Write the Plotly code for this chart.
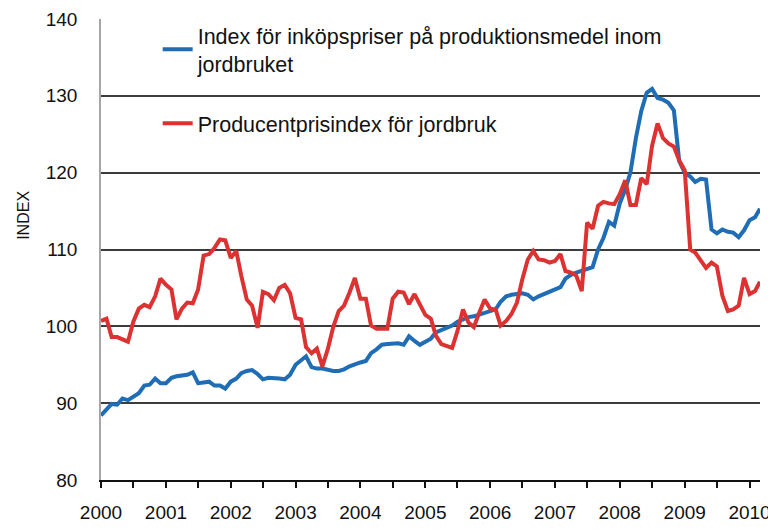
import pandas as pd
import plotly.graph_objects as go

# Monthly data, Jan 2000 - Mar 2010
months = pd.date_range("2000-01-01", periods=123, freq="MS")

input_price_index = [
    88.4, 89.2, 89.9, 89.8, 90.6, 90.4, 90.9, 91.3, 92.3, 92.4, 93.2, 92.6,   # 2000
    92.6, 93.3, 93.5, 93.6, 93.7, 94.0, 92.6, 92.7, 92.8, 92.3, 92.3, 91.9,   # 2001
    92.8, 93.2, 93.9, 94.2, 94.3, 93.8, 93.1, 93.3, 93.3, 93.2, 93.1, 93.7,   # 2002
    95.0, 95.5, 96.1, 94.7, 94.5, 94.5, 94.3, 94.2, 94.2, 94.4, 94.8, 95.1,   # 2003
    95.3, 95.5, 96.5, 97.0, 97.6, 97.7, 97.7, 97.8, 97.6, 98.7, 98.1, 97.6,   # 2004
    98.0, 98.4, 99.2, 99.5, 99.9, 100.1, 100.6, 100.9, 101.2, 101.3, 101.5, 101.8,  # 2005
    102.0, 102.2, 103.2, 103.9, 104.1, 104.2, 104.3, 104.1, 103.5, 103.9, 104.2, 104.6,  # 2006
    104.9, 105.1, 106.2, 106.7, 107.0, 107.2, 107.4, 107.7, 110.0, 111.5, 113.6, 113.1,  # 2007
    116.0, 117.8, 120.0, 124.5, 128.0, 130.4, 130.9, 129.7, 129.5, 129.1, 128.1, 121.5,  # 2008
    120.0, 119.5, 118.8, 119.2, 119.1, 112.6, 112.1, 112.6, 112.3, 112.2, 111.6, 112.5,  # 2009
    113.8, 114.2, 115.3,                                                          # 2010
]

producer_price_index = [
    100.7, 101.0, 98.6, 98.6, 98.3, 98.0, 100.6, 102.3, 102.8, 102.5, 103.9, 106.2,  # 2000
    105.4, 104.8, 100.9, 102.3, 103.1, 103.0, 104.8, 109.2, 109.4, 110.2, 111.3, 111.2,  # 2001
    108.9, 109.8, 106.6, 103.5, 102.7, 99.8, 104.5, 104.2, 103.4, 105.0, 105.4, 104.3,  # 2002
    101.1, 100.9, 97.3, 96.5, 97.1, 94.8, 97.0, 99.9, 102.0, 102.7, 104.4, 106.3,  # 2003
    103.6, 103.6, 100.1, 99.7, 99.7, 99.7, 103.6, 104.5, 104.4, 102.9, 104.2, 102.9,  # 2004
    101.5, 101.0, 98.8, 97.7, 97.5, 97.2, 99.4, 102.2, 100.5, 99.9, 101.8, 103.5,  # 2005
    102.3, 102.2, 100.1, 100.7, 101.6, 103.1, 106.1, 108.7, 109.8, 108.7, 108.6, 108.3,  # 2006
    108.5, 109.4, 107.2, 107.0, 106.6, 104.6, 113.5, 112.7, 115.7, 116.2, 116.0, 115.9,  # 2007
    117.2, 119.0, 115.8, 115.8, 119.3, 118.5, 123.5, 126.4, 124.5, 123.8, 123.4, 121.6,  # 2008
    120.3, 110.0, 109.6, 108.5, 107.6, 108.3, 107.8, 104.0, 102.0, 102.2, 102.7, 106.3,  # 2009
    104.2, 104.6, 105.8,                                                              # 2010
]

series_names = [
    "Index för inköpspriser på produktionsmedel inom<br>jordbruket",
    "Producentprisindex för jordbruk",
]
y_ticks = [80, 90, 100, 110, 120, 130, 140]

FONT = "Liberation Sans, Arial, sans-serif"

fig = go.Figure()
fig.add_trace(go.Scatter(
    x=months, y=input_price_index, mode="lines", name=series_names[0],
    line=dict(color="#1f6db5", width=4), legendgroup="a",
))
fig.add_trace(go.Scatter(
    x=months, y=producer_price_index, mode="lines", name=series_names[1],
    line=dict(color="#dc3232", width=4), legendgroup="b",
))

# The page body has an 8px margin, so the figure is sized to fit the window.
fig.update_layout(
    width=768, height=524,
    margin=dict(l=93, r=16, t=11, b=52, autoexpand=False),
    paper_bgcolor="white", plot_bgcolor="white",
    font=dict(family=FONT, size=19, color="#111111"),
    showlegend=True,
    legend=dict(
        x=0.086, y=1.009, xanchor="left", yanchor="top",
        bgcolor="rgba(0,0,0,0)", traceorder="grouped", tracegroupgap=29,
        font=dict(family=FONT, size=21.5, color="#111111"),
    ),
    xaxis=dict(
        range=["2000-01-01", "2010-03-01"],
        dtick="M12", tick0="2000-01-01", tickformat="%Y",
        ticks="outside", ticklen=6, tickwidth=1.5, tickcolor="#111111",
        minor=dict(dtick="M6", ticks="outside", ticklen=6, tickwidth=1.5, tickcolor="#111111"),
        showline=True, linecolor="#111111", linewidth=1.5,
        showgrid=False, zeroline=False, automargin=False,
        ticklabelstandoff=8,
    ),
    yaxis=dict(
        range=[80, 140], tickvals=y_ticks,
        showgrid=True, gridcolor="#3c3c3c", gridwidth=1.5,
        showline=True, linecolor="#a6a6a6", linewidth=1.5,
        ticks="", zeroline=False, ticklabelstandoff=18, automargin=False,
    ),
)

fig.add_annotation(
    text="INDEX", textangle=-90, showarrow=False,
    xref="paper", yref="paper", x=-0.117, y=0.575,
    xanchor="center", yanchor="middle",
    font=dict(family=FONT, size=16, color="#111111"),
)

fig.write_html("out.html")
